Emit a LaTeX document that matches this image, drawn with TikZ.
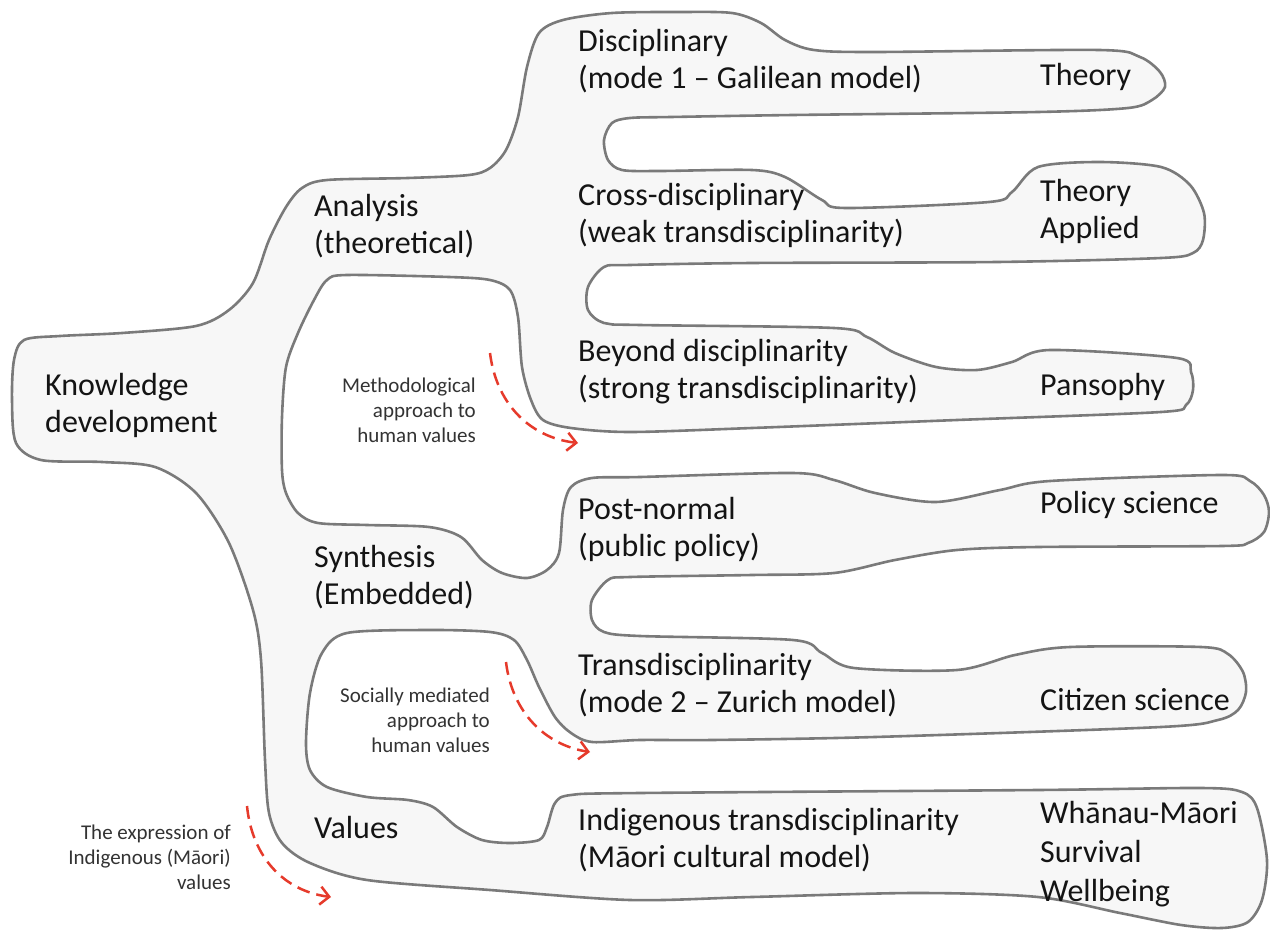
\documentclass[tikz,border=0pt]{standalone}
\usepackage{fontspec}
\setmainfont{Carlito}
\usetikzlibrary{arrows.meta}
\definecolor{blobfill}{HTML}{F7F7F7}
\definecolor{blobline}{HTML}{7A7A7A}
\definecolor{arrred}{HTML}{E63A2B}
\definecolor{smalltxt}{HTML}{333333}
\tikzset{
  blob/.style={draw=blobline, line width=2.6pt, fill=blobfill, line join=round},
  lbl/.style={inner sep=0pt, anchor=west, align=left, font=\fontsize{32}{37}\selectfont, text=black!92},
  note/.style={inner sep=0pt, anchor=east, align=right, font=\fontsize{21}{25}\selectfont, text=smalltxt},
  redarrow/.style={draw=arrred, line width=2.5pt, dash pattern=on 13pt off 7pt,
     -{Straight Barb[length=9pt,width=18pt,line width=2.5pt]}}
}
\begin{document}
\begin{tikzpicture}[x=1pt,y=-1pt]
\useasboundingbox (0,0) rectangle (1270,934);
\fill[white] (0,0) rectangle (1270,934);
\draw[blob] plot[smooth cycle, tension=0.5] coordinates {
(12,400) (14,360) (24,340) (60,336) (122,333) (196,326) (229,310) (253,283) (269,240) (286,207) (302,188) (327,180) (408,178) (469,175) (490,168) (506,150) (518,117) (527,67) (539,33) (563,20) (612,13) (680,12) (732,13) (761,23) (785,40) (814,50) (875,52) (1099,50) (1140,57) (1160,72) (1165,87) (1152,100) (1128,108) (1038,112) (793,115) (671,117) (630,118) (612,123) (604,140) (608,160) (622,170) (660,171) (752,170) (785,177) (822,200) (846,208) (989,202) (1012,192) (1038,167) (1099,162) (1161,167) (1190,185) (1204,213) (1203,240) (1193,253) (1161,258) (997,262) (752,263) (630,265) (604,267) (588,287) (588,310) (604,323) (640,325) (834,328) (867,337) (895,353) (936,367) (977,370) (1012,362) (1050,350) (1177,358) (1191,372) (1193,390) (1186,405) (1161,412) (957,420) (752,428) (630,432) (571,428) (543,420) (531,400) (522,367) (518,317) (510,290) (490,280) (449,277) (347,275) (327,280) (314,300) (298,333) (286,367) (282,417) (282,470) (286,493) (298,513) (318,523) (367,525) (429,527) (461,537) (482,560) (502,573) (527,578) (547,570) (559,553) (563,510) (571,487) (592,478) (640,477) (793,473) (834,480) (875,493) (936,502) (1000,490) (1050,481) (1222,475) (1250,481) (1264,495) (1269,512) (1264,532) (1248,543) (1222,546) (1038,547) (957,550) (895,560) (834,573) (752,575) (630,577) (608,580) (592,600) (592,620) (604,632) (640,636) (793,640) (822,653) (854,668) (957,670) (1015,655) (1070,647) (1201,647) (1228,654) (1243,672) (1246,692) (1238,710) (1218,720) (1161,727) (875,737) (712,740) (640,740) (592,742) (571,733) (555,717) (539,687) (527,660) (514,640) (490,632) (429,630) (347,633) (322,653) (310,693) (306,743) (310,770) (327,787) (367,797) (408,800) (433,807) (457,827) (482,840) (510,843) (539,840) (547,827) (555,803) (571,795) (640,793) (1038,790) (1201,788) (1242,792) (1257,808) (1267,860) (1262,900) (1248,922) (1222,928) (1181,925) (1120,913) (1038,897) (916,893) (752,897) (630,900) (490,890) (367,880) (310,863) (282,843) (269,813) (265,760) (261,660) (253,610) (229,543) (196,493) (155,467) (102,462) (41,460) (16,443)
};
% left column
\node[lbl] (know) at (45,405) {Knowledge\\development};
\node[lbl] (analysis) at (314,226) {Analysis\\(theoretical)};
\node[lbl] (synth) at (314,577) {Synthesis\\(Embedded)};
\node[lbl] (values) at (314,828) {Values};
% middle column
\node[lbl] (disc) at (578,61) {Disciplinary\\(mode 1 – Galilean model)};
\node[lbl] (cross) at (578,215) {Cross-disciplinary\\(weak transdisciplinarity)};
\node[lbl] (beyond) at (578,372) {Beyond disciplinarity\\(strong transdisciplinarity)};
\node[lbl] (post) at (578,529) {Post-normal\\(public policy)};
\node[lbl] (trans) at (578,685) {Transdisciplinarity\\(mode 2 – Zurich model)};
\node[lbl] (indig) at (578,840) {Indigenous transdisciplinarity\\(Māori cultural model)};
% right column
\node[lbl] (th1) at (1040,77) {Theory};
\node[lbl] (ta) at (1040,211) {Theory\\Applied};
\node[lbl] (pans) at (1040,387) {Pansophy};
\node[lbl] (pol) at (1040,505) {Policy science};
\node[lbl] (cit) at (1040,700) {Citizen science};
\node[lbl, font=\fontsize{32}{39}\selectfont] (wh) at (1040,854) {Whānau-Māori\\Survival\\Wellbeing};
% notes
\node[note] (meth) at (476,410) {Methodological\\approach to\\human values};
\node[note] (soc) at (490,720) {Socially mediated\\approach to\\human values};
\node[note] (expr) at (231,857) {The expression of\\Indigenous (Māori)\\values};
% arrows
\coordinate (a1s) at (490,353); \coordinate (a1e) at (578,443);
\coordinate (a2s) at (506,662); \coordinate (a2e) at (590,752);
\coordinate (a3s) at (247,806); \coordinate (a3e) at (331,897);
\draw[redarrow] (a1s) .. controls (496,402) and (528,437) .. (a1e);
\draw[redarrow] (a2s) .. controls (512,712) and (545,745) .. (a2e);
\draw[redarrow] (a3s) .. controls (252,857) and (284,891) .. (a3e);
\end{tikzpicture}
\end{document}
